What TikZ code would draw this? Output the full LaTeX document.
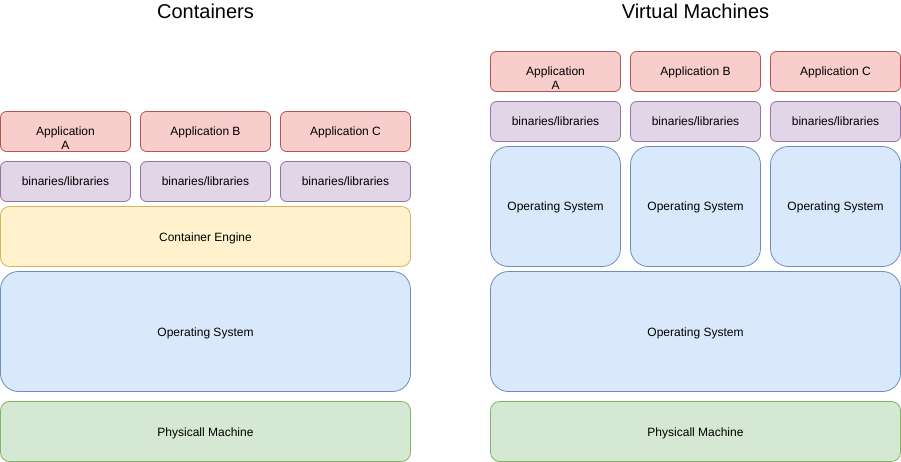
\documentclass[tikz,border=0pt]{standalone}
\usepackage{fontspec}
\setmainfont{Liberation Sans}
\usepackage{tikz}
\usetikzlibrary{positioning}
\definecolor{appFill}{HTML}{F8CECC}
\definecolor{appLine}{HTML}{B85450}
\definecolor{libFill}{HTML}{E1D5E7}
\definecolor{libLine}{HTML}{9673A6}
\definecolor{engFill}{HTML}{FFF2CC}
\definecolor{engLine}{HTML}{D6B656}
\definecolor{osFill}{HTML}{DAE8FC}
\definecolor{osLine}{HTML}{6C8EBF}
\definecolor{hwFill}{HTML}{D5E8D4}
\definecolor{hwLine}{HTML}{82B366}
\tikzset{
    layer/.style={
        draw,
        line width=0.8pt,
        rounded corners=6pt,
        minimum width=130pt,
        minimum height=40pt,
        outer sep=0pt,
        inner sep=2pt,
        text height=12pt,
        text depth=3pt,
        font=\fontsize{12}{14}\selectfont
    },
    app/.style={layer, fill=appFill, draw=appLine},
    libs/.style={layer, fill=libFill, draw=libLine},
    engine/.style={layer, fill=engFill, draw=engLine, minimum width=410pt, minimum height=60pt, rounded corners=9pt},
    os/.style={layer, fill=osFill, draw=osLine, minimum height=120pt, rounded corners=18pt},
    hw/.style={layer, fill=hwFill, draw=hwLine, minimum width=410pt, minimum height=60pt, rounded corners=9pt},
    title/.style={anchor=base, font=\fontsize{20}{24}\selectfont}
}
\newcommand{\twolines}[2]{\smash{\begin{tabular}[t]{@{}c@{}}#1\\#2\end{tabular}}}

\begin{document}
\begin{tikzpicture}[x=1pt, y=-1pt]
                \useasboundingbox (0,0) rectangle (901,462);
                
                % Containers
                \node[title] (ctTitle) at (205.5,19) {Containers};
                \node[app] (ctA) at (65.5,131.5) {\twolines{Application}{A}};
                \node[app, right=10pt of ctA] (ctB) {Application B};
                \node[app, right=10pt of ctB] (ctC) {Application C};
                \node[libs, below=10pt of ctA] (ctLibA) {binaries/libraries};
                \node[libs, below=10pt of ctB] (ctLibB) {binaries/libraries};
                \node[libs, below=10pt of ctC] (ctLibC) {binaries/libraries};
                \node[engine, below right=5pt and 0pt of ctLibA.south west] (ctEngine) {Container Engine};
                \node[os, minimum width=410pt, below=5pt of ctEngine] (ctOs) {Operating System};
                \node[hw, below=10pt of ctOs] (ctHw) {Physicall Machine};
                
                % Virtual Machines
                \node[title] (vmTitle) at (695.5,19) {Virtual Machines};
                \node[app] (vmA) at (555.5,71.5) {\twolines{Application}{A}};
                \node[app, right=10pt of vmA] (vmB) {Application B};
                \node[app, right=10pt of vmB] (vmC) {Application C};
                \node[libs, below=10pt of vmA] (vmLibA) {binaries/libraries};
                \node[libs, below=10pt of vmB] (vmLibB) {binaries/libraries};
                \node[libs, below=10pt of vmC] (vmLibC) {binaries/libraries};
                \node[os, below=5pt of vmLibA] (vmOsA) {Operating System};
                \node[os, below=5pt of vmLibB] (vmOsB) {Operating System};
                \node[os, below=5pt of vmLibC] (vmOsC) {Operating System};
                \node[os, minimum width=410pt, below right=5pt and 0pt of vmOsA.south west] (vmOs) {Operating System};
                \node[hw, below=10pt of vmOs] (vmHw) {Physicall Machine};
            \end{tikzpicture}
\end{document}
